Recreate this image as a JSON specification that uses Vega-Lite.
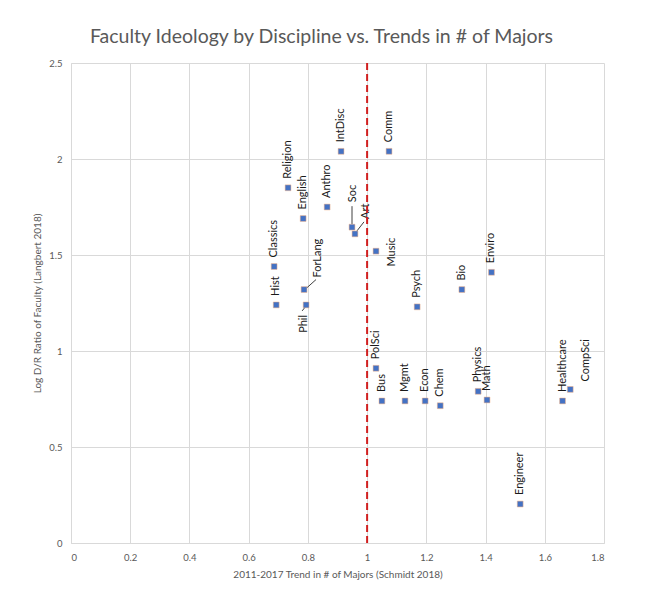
{
  "$schema": "https://vega.github.io/schema/vega-lite/v6.json",
  "autosize": {"type": "none"},
  "width": 533,
  "height": 480,
  "padding": {"left": 71, "top": 63, "right": 46, "bottom": 68},
  "background": "white",
  "title": {
    "text": "Faculty Ideology by Discipline vs. Trends in # of Majors",
    "font": "Lato",
    "fontSize": 19.5,
    "fontWeight": "normal",
    "color": "#595959",
    "anchor": "middle",
    "dx": -16,
    "offset": 11
  },
  "config": {
    "font": "Lato",
    "view": {"stroke": null},
    "axis": {
      "gridColor": "#D9D9D9",
      "gridWidth": 1,
      "domainColor": "#D9D9D9",
      "ticks": false,
      "labelColor": "#595959",
      "labelFont": "Lato",
      "labelFontSize": 9.5,
      "titleColor": "#595959",
      "titleFont": "Lato",
      "titleFontSize": 10,
      "titleFontWeight": "normal"
    }
  },
  "data": {
    "values": [
      {"name": "Hist", "trend": 0.693, "ideology": 1.24},
      {"name": "Classics", "trend": 0.686, "ideology": 1.44},
      {"name": "Religion", "trend": 0.733, "ideology": 1.85},
      {"name": "English", "trend": 0.784, "ideology": 1.69},
      {"name": "ForLang", "trend": 0.787, "ideology": 1.32},
      {"name": "Phil", "trend": 0.794, "ideology": 1.24},
      {"name": "Anthro", "trend": 0.865, "ideology": 1.75},
      {"name": "IntDisc", "trend": 0.912, "ideology": 2.04},
      {"name": "Soc", "trend": 0.949, "ideology": 1.645},
      {"name": "Art", "trend": 0.959, "ideology": 1.61},
      {"name": "Comm", "trend": 1.074, "ideology": 2.04},
      {"name": "Music", "trend": 1.03, "ideology": 1.52},
      {"name": "PolSci", "trend": 1.03, "ideology": 0.91},
      {"name": "Bus", "trend": 1.05, "ideology": 0.74},
      {"name": "Mgmt", "trend": 1.128, "ideology": 0.74},
      {"name": "Econ", "trend": 1.196, "ideology": 0.74},
      {"name": "Chem", "trend": 1.247, "ideology": 0.715},
      {"name": "Psych", "trend": 1.169, "ideology": 1.23},
      {"name": "Bio", "trend": 1.32, "ideology": 1.32},
      {"name": "Enviro", "trend": 1.42, "ideology": 1.41},
      {"name": "Physics", "trend": 1.375, "ideology": 0.79},
      {"name": "Math", "trend": 1.405, "ideology": 0.745},
      {"name": "Healthcare", "trend": 1.66, "ideology": 0.74},
      {"name": "CompSci", "trend": 1.686, "ideology": 0.80},
      {"name": "Engineer", "trend": 1.517, "ideology": 0.203}
    ]
  },
  "encoding": {
    "x": {
      "field": "trend",
      "type": "quantitative",
      "scale": {"domain": [0, 1.8], "nice": false},
      "axis": {
        "title": "2011-2017 Trend in # of Majors (Schmidt 2018)",
        "values": [0, 0.2, 0.4, 0.6, 0.8, 1, 1.2, 1.4, 1.6, 1.8],
        "format": "~g",
        "labelPadding": 9,
        "titlePadding": 8
      }
    },
    "y": {
      "field": "ideology",
      "type": "quantitative",
      "scale": {"domain": [0, 2.5], "nice": false},
      "axis": {
        "title": "Log D/R Ratio of Faculty (Langbert 2018)",
        "values": [0, 0.5, 1, 1.5, 2, 2.5],
        "format": "~g",
        "labelPadding": 9,
        "titlePadding": 6
      }
    }
  },
  "layer": [
    {
      "transform": [{"filter": "datum.name === 'Soc'"}],
      "mark": {"type": "rule", "color": "#404040", "strokeWidth": 1, "yOffset": -3, "y2Offset": -21},
      "encoding": {"x2": {"field": "trend"}, "y2": {"field": "ideology"}}
    },
    {
      "transform": [{"filter": "datum.name === 'Art'"}],
      "mark": {"type": "rule", "color": "#404040", "strokeWidth": 1, "xOffset": 2, "yOffset": -3, "x2Offset": 9, "y2Offset": -12},
      "encoding": {"x2": {"field": "trend"}, "y2": {"field": "ideology"}}
    },
    {
      "transform": [{"filter": "datum.name === 'ForLang'"}],
      "mark": {"type": "rule", "color": "#404040", "strokeWidth": 1, "xOffset": 2, "yOffset": -1, "x2Offset": 12, "y2Offset": -10},
      "encoding": {"x2": {"field": "trend"}, "y2": {"field": "ideology"}}
    },
    {
      "transform": [{"filter": "datum.name === 'Phil'"}],
      "mark": {"type": "rule", "color": "#404040", "strokeWidth": 1, "xOffset": 0, "yOffset": 1, "x2Offset": -4, "y2Offset": 6},
      "encoding": {"x2": {"field": "trend"}, "y2": {"field": "ideology"}}
    },
    {
      "mark": {"type": "square", "size": 34, "filled": true, "color": "#4472C4", "stroke": "#F4B183", "strokeWidth": 0.5, "opacity": 1}
    },
    {
      "transform": [{"filter": "indexof(['Soc','Art','ForLang','Phil','Music','CompSci'], datum.name) < 0"}],
      "mark": {"type": "text", "angle": 270, "align": "left", "baseline": "middle", "dx": 9, "font": "Lato", "fontSize": 11, "color": "#1a1a1a"},
      "encoding": {"text": {"field": "name"}}
    },
    {
      "transform": [{"filter": "datum.name === 'Soc'"}],
      "mark": {"type": "text", "angle": 270, "align": "left", "baseline": "middle", "dx": 25, "dy": 1, "font": "Lato", "fontSize": 11, "color": "#1a1a1a"},
      "encoding": {"text": {"field": "name"}}
    },
    {
      "transform": [{"filter": "datum.name === 'Art'"}],
      "mark": {"type": "text", "angle": 270, "align": "left", "baseline": "middle", "dx": 15, "dy": 11, "font": "Lato", "fontSize": 11, "color": "#1a1a1a"},
      "encoding": {"text": {"field": "name"}}
    },
    {
      "transform": [{"filter": "datum.name === 'ForLang'"}],
      "mark": {"type": "text", "angle": 270, "align": "left", "baseline": "middle", "dx": 12, "dy": 14, "font": "Lato", "fontSize": 11, "color": "#1a1a1a"},
      "encoding": {"text": {"field": "name"}}
    },
    {
      "transform": [{"filter": "datum.name === 'Phil'"}],
      "mark": {"type": "text", "angle": 270, "align": "right", "baseline": "middle", "dx": -10, "dy": -2, "font": "Lato", "fontSize": 11, "color": "#1a1a1a"},
      "encoding": {"text": {"field": "name"}}
    },
    {
      "transform": [{"filter": "datum.name === 'Music'"}],
      "mark": {"type": "text", "angle": 270, "align": "center", "baseline": "middle", "dx": -1, "dy": 16, "font": "Lato", "fontSize": 11, "color": "#1a1a1a"},
      "encoding": {"text": {"field": "name"}}
    },
    {
      "transform": [{"filter": "datum.name === 'CompSci'"}],
      "mark": {"type": "text", "angle": 270, "align": "left", "baseline": "middle", "dx": 8, "dy": 16, "font": "Lato", "fontSize": 11, "color": "#1a1a1a"},
      "encoding": {"text": {"field": "name"}}
    },
    {
      "data": {"values": [{"v": 1}]},
      "mark": {"type": "rule", "color": "#D01F1F", "strokeWidth": 2, "strokeDash": [7, 4]},
      "encoding": {"x": {"field": "v", "type": "quantitative"}, "y": {"value": 0}, "y2": {"value": 480}}
    }
  ]
}
